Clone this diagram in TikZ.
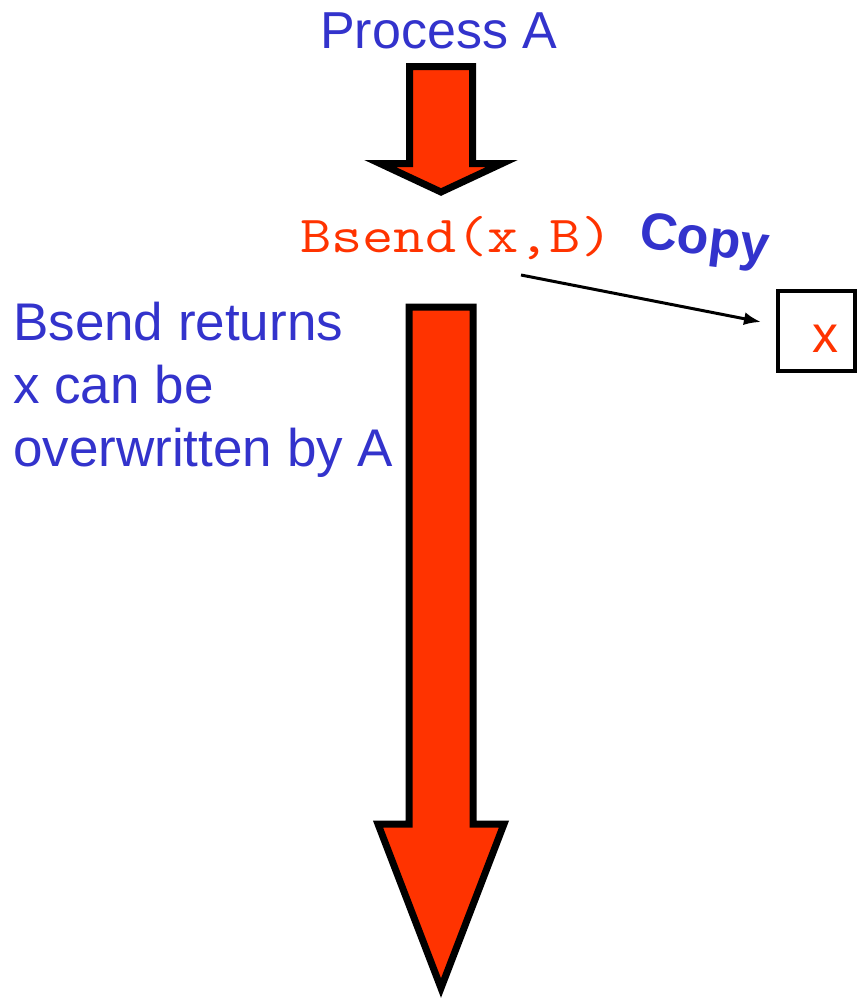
\documentclass[tikz,border=0pt]{standalone}
\usepackage{fontspec}
\setmainfont{Liberation Sans}
\usetikzlibrary{arrows.meta}
\definecolor{blu}{HTML}{3333CC}
\definecolor{orng}{HTML}{FF3300}
\begin{document}
\begin{tikzpicture}[x=1pt,y=1pt,
  bigarrow/.style={draw=black,line width=7pt,fill=orng,line join=miter,miter limit=20},
  bluetxt/.style={text=blu,inner sep=0pt,font=\fontsize{53}{63}\selectfont},
  codetxt/.style={text=orng,inner sep=0pt,font=\ttfamily\fontsize{52}{60}\selectfont},
  boxstyle/.style={draw=black,line width=4pt,minimum width=77pt,minimum height=80pt,inner sep=0pt}]
\useasboundingbox (0,0) rectangle (857,-1001);
% Title
\node[bluetxt,anchor=base west,font=\fontsize{52}{63}\selectfont] (title) at (320,-48) {Process A};
% top arrow
\draw[bigarrow] (409.5,-66.5) -- (472.5,-66.5) -- (472.5,-163.5) -- (502,-163.5) -- (441,-192) -- (380,-163.5) -- (409.5,-163.5) -- cycle;
% Bsend
\node[codetxt,anchor=base west,xscale=1.165] (bsend) at (300,-252) {Bsend(x,B)};
% Copy
\node[bluetxt,anchor=base west,rotate=-7,font=\bfseries\fontsize{52}{63}\selectfont] (copy) at (638,-247) {Copy};
% box
\node[boxstyle] (xbox) at (816.5,-331) {};
\node[text=orng,inner sep=0pt,anchor=base,font=\fontsize{52}{63}\selectfont] (xl) at (825.5,-352) {x};
% connector
\coordinate (cs) at (521,-275);
\coordinate (ce) at (761,-322);
\draw[line width=3pt,-{Latex[length=17pt,width=13pt]}] (cs) -- (ce);
% left text
\node[bluetxt,anchor=north west,align=left] (note) at (13,-302) {Bsend returns\\x can be\\overwritten by A};
% big arrow
\draw[bigarrow] (409,-307) -- (473,-307) -- (473,-824) -- (504,-824) -- (441,-988) -- (378,-824) -- (409,-824) -- cycle;
\end{tikzpicture}
\end{document}
